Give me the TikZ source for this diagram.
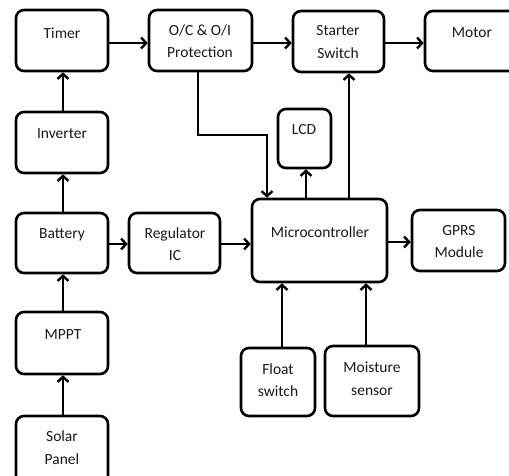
\documentclass[tikz,border=0pt]{standalone}
\usepackage{fontspec}
\setmainfont{Carlito}
\usetikzlibrary{arrows.meta}
\begin{document}
\begin{tikzpicture}[x=1pt,y=-1pt,
  box/.style={draw=black,line width=2.6pt,rounded corners=8pt,inner sep=0pt},
  txt/.style={font=\fontsize{15.5}{22.5}\selectfont,text=black!90,align=center,inner sep=0pt},
  arr/.style={draw=black,line width=2.6pt,-{Straight Barb[length=5pt,width=11pt,line width=2.4pt]}},
  conn/.style={draw=black,line width=2.6pt}]
\useasboundingbox (0,0) rectangle (509,475);
\clip (0,0) rectangle (509,475);
% boxes
\node[box,minimum width=92pt,minimum height=61pt] (timer) at (62,40.5) {};
\node[box,minimum width=103pt,minimum height=61pt] (oc) at (200.5,40.5) {};
\node[box,minimum width=91pt,minimum height=61pt] (starter) at (338.5,41.5) {};
\node[box,minimum width=100pt,minimum height=60pt] (motor) at (475,41) {};
\node[box,minimum width=92pt,minimum height=61pt] (inverter) at (62,142.5) {};
\node[box,minimum width=53pt,minimum height=59pt] (lcd) at (304.5,138.5) {};
\node[box,minimum width=92pt,minimum height=60pt] (battery) at (62,243) {};
\node[box,minimum width=91pt,minimum height=60pt] (reg) at (174.5,243) {};
\node[box,minimum width=135pt,minimum height=83pt] (micro) at (319.5,240.5) {};
\node[box,minimum width=93pt,minimum height=61pt] (gprs) at (458.5,240.5) {};
\node[box,minimum width=92pt,minimum height=62pt] (mppt) at (62,343) {};
\node[box,minimum width=92pt,minimum height=74pt] (solar) at (62,453) {};
\node[box,minimum width=74pt,minimum height=68pt] (float) at (278,382) {};
\node[box,minimum width=94pt,minimum height=70pt] (moist) at (372,381) {};
% texts
\node[txt] (ttimer) at (62,33) {Timer};
\node[txt] (toc) at (200,41) {O/C \& O/I\\Protection};
\node[txt] (tstarter) at (338,42) {Starter\\Switch};
\node[txt] (tmotor) at (472,33) {Motor};
\node[txt] (tinverter) at (62,134) {Inverter};
\node[txt] (tlcd) at (304,130) {LCD};
\node[txt] (tbattery) at (62,235) {Battery};
\node[txt] (treg) at (175,244) {Regulator\\IC};
\node[txt] (tmicro) at (320,232) {Microcontroller};
\node[txt] (tgprs) at (459,241.5) {GPRS\\Module};
\node[txt] (tmppt) at (63,335) {MPPT};
\node[txt] (tsolar) at (62,447.5) {Solar\\Panel};
\node[txt] (tfloat) at (278,380) {Float\\switch};
\node[txt] (tmoist) at (372,378.5) {Moisture\\sensor};
% connectors
\draw[arr] (timer.east |- 0,43) -- (oc.west |- 0,43);
\draw[arr] (oc.east |- 0,43) -- (starter.west |- 0,43);
\draw[arr] (starter.east |- 0,43) -- (motor.west |- 0,43);
\draw[arr] (inverter.north -| 63,0) -- (timer.south -| 63,0);
\draw[arr] (battery.north -| 63,0) -- (inverter.south -| 63,0);
\draw[arr] (mppt.north -| 63,0) -- (battery.south -| 63,0);
\draw[arr] (solar.north -| 63,0) -- (mppt.south -| 63,0);
\draw[arr] (battery.east |- 0,244) -- (reg.west |- 0,244);
\draw[arr] (reg.east |- 0,244) -- (micro.west |- 0,244);
\draw[arr] (micro.east |- 0,242) -- (gprs.west |- 0,242);
\draw[arr] (oc.south -| 198,0) |- (267,135) -- (micro.north -| 267,0);
\draw[arr] (micro.north -| 306,0) -- (lcd.south -| 306,0);
\draw[arr] (micro.north -| 349,0) -- (starter.south -| 349,0);
\draw[arr] (float.north -| 282,0) -- (micro.south -| 282,0);
\draw[arr] (moist.north -| 366,0) -- (micro.south -| 366,0);
\end{tikzpicture}
\end{document}
